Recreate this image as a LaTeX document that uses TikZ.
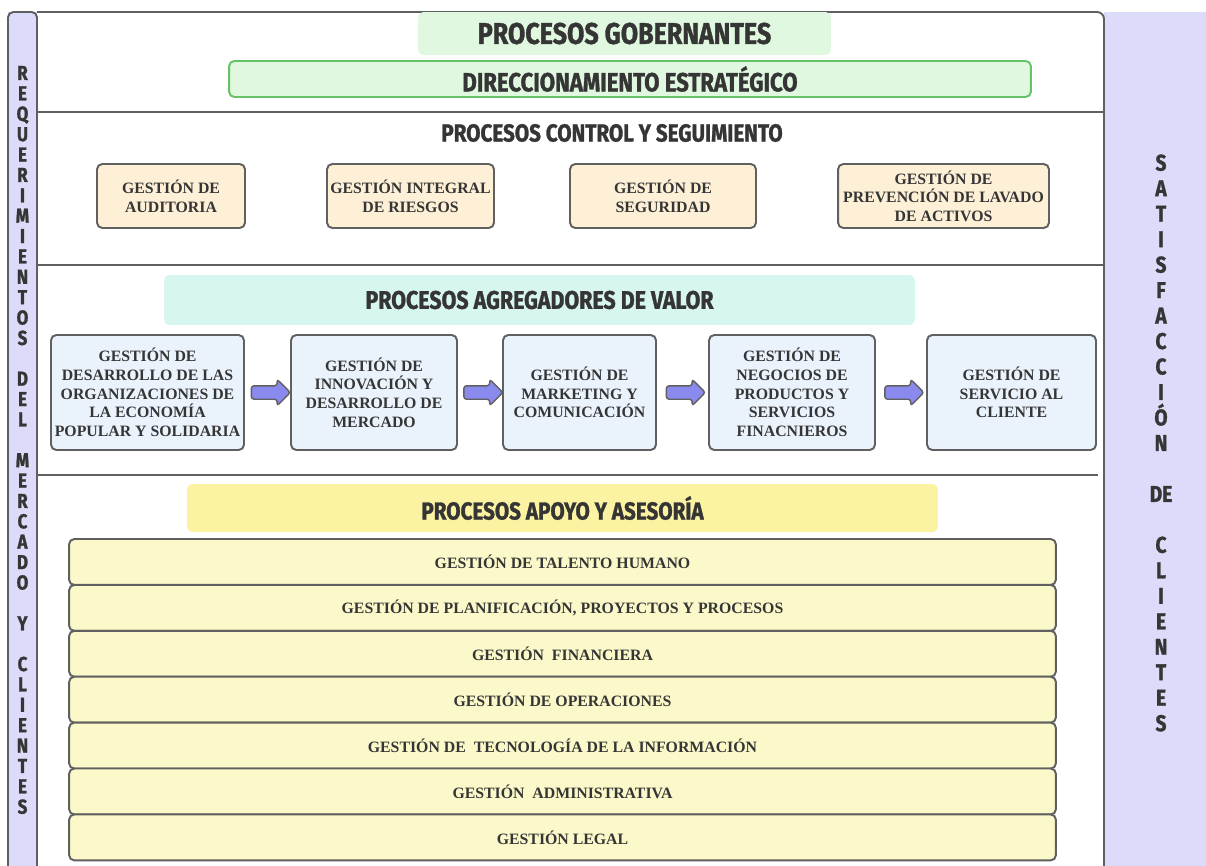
\documentclass[tikz,border=0pt]{standalone}
\usepackage{fontspec}
\setmainfont{Liberation Serif}
\newfontfamily\headfont[FakeStretch=0.84,FakeBold=1.2]{Fira Sans}
\usepackage{tikz}
\usetikzlibrary{shapes.arrows}

\definecolor{sidebar}{HTML}{DCDCFA}
\definecolor{frameline}{HTML}{606060}
\definecolor{govfill}{HTML}{E0F8E0}
\definecolor{govline}{HTML}{66C266}
\definecolor{ctlfill}{HTML}{FDF0D6}
\definecolor{valhead}{HTML}{D6F6EF}
\definecolor{valfill}{HTML}{EAF2FC}
\definecolor{flowfill}{HTML}{8A8AEE}
\definecolor{suphead}{HTML}{FCF3A2}
\definecolor{supfill}{HTML}{FBF9C9}
\definecolor{ink}{HTML}{353535}

\begin{document}
\begin{tikzpicture}[x=0.02cm,y=-0.02cm,
    every node/.style={text=ink},
    title/.style={font=\headfont\bfseries\fontsize{14}{16}\selectfont},
    band/.style={title, inner sep=0pt, rounded corners=3pt},
    procbox/.style={draw=frameline, line width=1.1pt, rounded corners=3pt,
      align=center, inner sep=0pt, font=\bfseries\fontsize{9}{10.6}\selectfont},
    ctlbox/.style={procbox, fill=ctlfill, minimum height=1.28cm},
    valbox/.style={procbox, fill=valfill, minimum height=2.30cm},
    supbox/.style={procbox, fill=supfill, minimum width=19.74cm, minimum height=0.92cm},
    flow/.style={single arrow, draw=frameline, fill=flowfill, line width=0.8pt,
      minimum height=0.78cm, inner xsep=0pt, inner ysep=0.12cm,
      single arrow head extend=0.13cm, rounded corners=1.5pt},
    sidetext/.style={align=center, inner sep=0pt,
      font=\headfont\bfseries\fontsize{11.5}{11.6}\selectfont}]
    \useasboundingbox (0,0) rectangle (1206,865);
    \fill[white] (0,0) rectangle (1206,865);

    % frame and side bars
    \fill[sidebar] (8,12) rectangle (37,866);
    \fill[sidebar] (1104,12) rectangle (1207,866);
    \draw[frameline, line width=1.1pt, rounded corners=3pt] (8,866) -- (8,12) -- (37,12) -- (37,866);
    \draw[frameline, line width=1.1pt, rounded corners=4pt] (37,12) -- (1104,12) -- (1104,866);
    \draw[frameline, line width=1.1pt] (37,112) -- (1104,112) (37,265) -- (1104,265) (37,475) -- (1098,475);

    \node[sidetext] (req) at (22.5,440) {R\\E\\Q\\U\\E\\R\\I\\M\\I\\E\\N\\T\\O\\S\\~\\D\\E\\L\\~\\M\\E\\R\\C\\A\\D\\O\\~\\Y\\~\\C\\L\\I\\E\\N\\T\\E\\S};
    \node[sidetext, font=\headfont\bfseries\fontsize{13}{14.5}\selectfont] (sat) at (1161,443)
      {S\\A\\T\\I\\S\\F\\A\\C\\C\\I\\Ó\\N\\~\\DE\\~\\C\\L\\I\\E\\N\\T\\E\\S};

    % procesos gobernantes
    \node[band, fill=govfill, minimum width=8.26cm, minimum height=0.86cm,
      font=\headfont\bfseries\fontsize{17}{19}\selectfont] (gob) at (624.5,33.5) {PROCESOS GOBERNANTES};
    \node[band, draw=govline, line width=1.1pt, fill=govfill, minimum width=16.04cm, minimum height=0.72cm,
      font=\headfont\bfseries\fontsize{15}{17}\selectfont] (dir) at (630,79) {DIRECCIONAMIENTO ESTRATÉGICO};

    % control y seguimiento
    \node[title] (ctl) at (612,133) {PROCESOS CONTROL Y SEGUIMIENTO};
    \node[ctlbox, minimum width=2.96cm] (audit) at (171,196) {GESTIÓN DE\\AUDITORIA};
    \node[ctlbox, minimum width=3.34cm] (riesgo) at (410.5,196) {GESTIÓN INTEGRAL\\DE RIESGOS};
    \node[ctlbox, minimum width=3.72cm] (segur) at (663,196) {GESTIÓN DE\\SEGURIDAD};
    \node[ctlbox, minimum width=4.22cm] (lavado) at (943.5,196) {GESTIÓN DE\\PREVENCIÓN DE LAVADO\\DE ACTIVOS};

    % agregadores de valor
    \node[band, fill=valhead, minimum width=15.02cm, minimum height=1.0cm,
      font=\headfont\bfseries\fontsize{14.5}{16}\selectfont] (agr) at (539.5,300) {PROCESOS AGREGADORES DE VALOR};
    \node[valbox, minimum width=3.86cm] (desarr) at (147.5,392.5) {GESTIÓN DE\\DESARROLLO DE LAS\\ORGANIZACIONES DE\\LA ECONOMÍA\\POPULAR Y SOLIDARIA};
    \node[valbox, minimum width=3.32cm] (innov) at (374,392.5) {GESTIÓN DE\\INNOVACIÓN Y\\DESARROLLO DE\\MERCADO};
    \node[valbox, minimum width=3.06cm] (mkt) at (579.5,392.5) {GESTIÓN DE\\MARKETING Y\\COMUNICACIÓN};
    \node[valbox, minimum width=3.32cm] (negoc) at (792,392.5) {GESTIÓN DE\\NEGOCIOS DE\\PRODUCTOS Y\\SERVICIOS\\FINACNIEROS};
    \node[valbox, minimum width=3.38cm] (servic) at (1011.5,392.5) {GESTIÓN DE\\SERVICIO AL\\CLIENTE};
    \path (desarr) -- node[flow] {} (innov)
      (innov) -- node[flow] {} (mkt)
      (mkt) -- node[flow] {} (negoc)
      (negoc) -- node[flow] {} (servic);

    % apoyo y asesoria
    \node[band, fill=suphead, minimum width=15.02cm, minimum height=0.96cm] (apo) at (562.5,508) {PROCESOS APOYO Y ASESORÍA};
    \foreach \txt [count=\i] in {{GESTIÓN DE TALENTO HUMANO},
        {GESTIÓN DE PLANIFICACIÓN, PROYECTOS Y PROCESOS},
        {GESTIÓN\ \ FINANCIERA},
        {GESTIÓN DE OPERACIONES},
        {GESTIÓN DE\ \ TECNOLOGÍA DE LA INFORMACIÓN},
        {GESTIÓN\ \ ADMINISTRATIVA},
        {GESTIÓN LEGAL}}
      \node[supbox] (sup\i) at (562.5,{516.1+45.9*\i}) {\txt};
\end{tikzpicture}
\end{document}
